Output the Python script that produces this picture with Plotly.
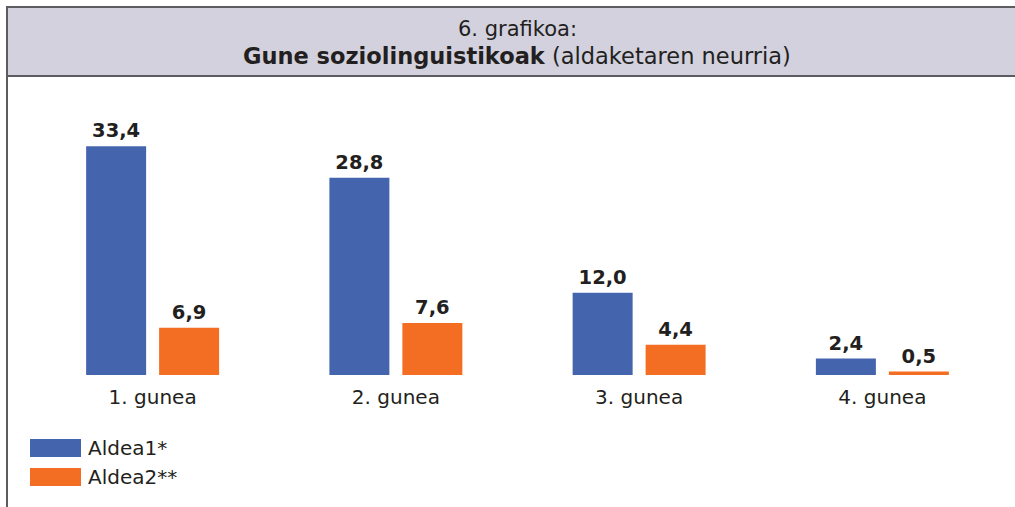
import plotly.graph_objects as go

categories = ["1. gunea", "2. gunea", "3. gunea", "4. gunea"]
series_names = ["Aldea1*", "Aldea2**"]
aldea1 = [33.4, 28.8, 12.0, 2.4]
aldea2 = [6.9, 7.6, 4.4, 0.5]
colors = ["#4464AE", "#F36E22"]
title_line1 = "6. grafikoa:"
title_bold = "Gune soziolinguistikoak"
title_rest = " (aldaketaren neurria)"

W, H = 1015, 507
L, R, T, B = 31, 11, 101, 132
pw, ph = W - L - R, H - T - B

def px(x):
    return (x - L) / pw

def py(y):
    return (H - B - y) / ph

def fmt(v):
    return f"{v:.1f}".replace(".", ",")

FONT = "DejaVu Sans"
TXT = "#231F20"
GAP = 0.40
GROUPGAP = 0.178
fig = go.Figure()
for i, (name, vals, col) in enumerate(zip(series_names, [aldea1, aldea2], colors)):
    fig.add_trace(go.Bar(
        x=categories, y=vals, name=name, marker_color=col, marker_line_width=0,
        offsetgroup=str(i), showlegend=False, hoverinfo="x+y",
    ))
for i, vals in enumerate([aldea1, aldea2]):
    fig.add_trace(go.Scatter(
        x=categories, y=vals, mode="markers+text", offsetgroup=str(i),
        marker=dict(size=5, opacity=0), text=[fmt(v) for v in vals],
        textposition="top center",
        textfont=dict(family=FONT, size=19.5, color=TXT, weight="bold"),
        cliponaxis=False, showlegend=False, hoverinfo="skip",
    ))

shapes = [
    dict(type="rect", xref="paper", yref="paper", x0=px(7), x1=px(1030), y0=py(76), y1=py(7),
         fillcolor="#D2D1DD", line=dict(color="#5B5B60", width=2), layer="below"),
    dict(type="line", xref="paper", yref="paper", x0=px(7), x1=px(7), y0=py(76), y1=py(515),
         line=dict(color="#5B5B60", width=2)),
]
annotations = [
    dict(xref="paper", yref="paper", x=px(517), y=py(29), text=title_line1, showarrow=False,
         xanchor="center", yanchor="middle", font=dict(family=FONT, size=21, color=TXT)),
    dict(xref="paper", yref="paper", x=px(517), y=py(56), text=f"<b>{title_bold}</b>{title_rest}",
         showarrow=False, xanchor="center", yanchor="middle",
         font=dict(family=FONT, size=22.5, color=TXT)),
]
legend_rows = [448, 477]
for name, col, yc in zip(series_names, colors, legend_rows):
    shapes.append(dict(type="rect", xref="paper", yref="paper", x0=px(30), x1=px(81),
                       y0=py(yc + 9), y1=py(yc - 9), fillcolor=col, line=dict(width=0)))
    annotations.append(dict(xref="paper", yref="paper", x=px(86), y=py(yc), text=name,
                            showarrow=False, xanchor="left", yanchor="middle",
                            font=dict(family=FONT, size=20, color=TXT)))

fig.update_layout(
    width=W, height=H, margin=dict(l=L, r=R, t=T, b=B),
    paper_bgcolor="white", plot_bgcolor="white",
    barmode="group", bargap=GAP, bargroupgap=GROUPGAP,
    scattermode="group", scattergap=GAP,
    xaxis=dict(showgrid=False, showline=False, zeroline=False, ticks="",
               tickfont=dict(family=FONT, size=20, color=TXT), ticklabelstandoff=8),
    yaxis=dict(range=[0, 40], visible=False),
    shapes=shapes, annotations=annotations,
)
fig.write_html("out.html", config={"displayModeBar": False})

with open("out.html", encoding="utf-8") as f:
    html = f.read()
html = html.replace("<head>", "<head><style>html,body{margin:0;padding:0;overflow:hidden;}</style>", 1)
with open("out.html", "w", encoding="utf-8") as f:
    f.write(html)
